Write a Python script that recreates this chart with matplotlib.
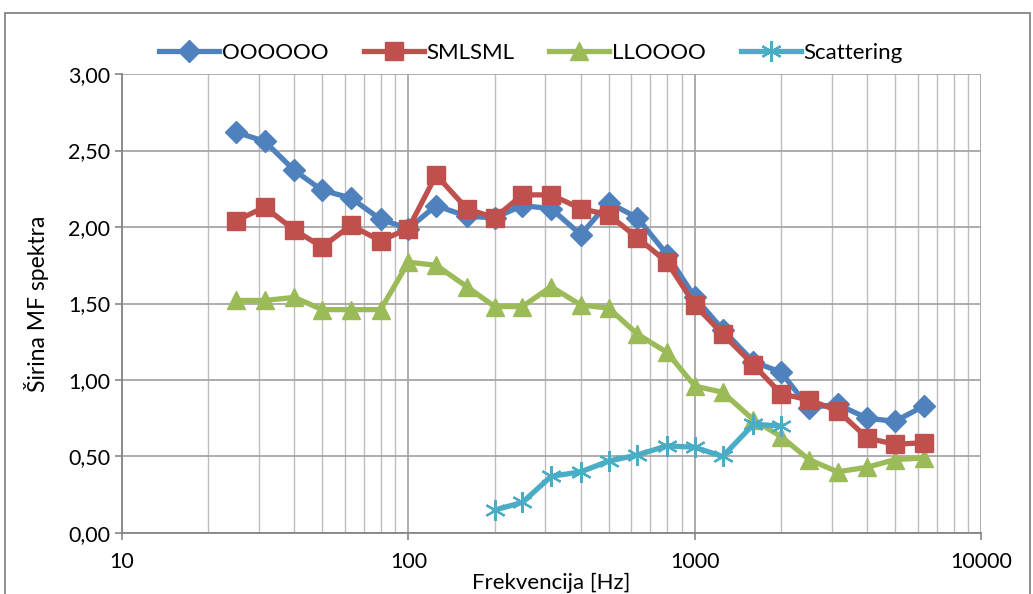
import numpy as np
import matplotlib.pyplot as plt
from matplotlib.patches import Rectangle
from matplotlib.ticker import FixedLocator, FuncFormatter, LogLocator, NullFormatter

plt.rcParams['font.family'] = ['Lato', 'DejaVu Sans']

freq = [25, 31.5, 40, 50, 63, 80, 100, 125, 160, 200, 250, 315, 400, 500,
        630, 800, 1000, 1250, 1600, 2000, 2500, 3150, 4000, 5000, 6300]

oooooo = [2.62, 2.56, 2.37, 2.24, 2.19, 2.05, 1.99, 2.14, 2.07, 2.06, 2.14, 2.12, 1.95,
          2.16, 2.06, 1.82, 1.54, 1.33, 1.12, 1.05, 0.82, 0.84, 0.75, 0.73, 0.83]
smlsml = [2.04, 2.13, 1.98, 1.87, 2.01, 1.91, 1.99, 2.34, 2.12, 2.06, 2.21, 2.21, 2.12,
          2.08, 1.93, 1.77, 1.49, 1.30, 1.10, 0.91, 0.87, 0.80, 0.62, 0.58, 0.59]
llooooo = [1.52, 1.52, 1.54, 1.46, 1.46, 1.46, 1.77, 1.75, 1.61, 1.48, 1.48, 1.61, 1.49,
           1.47, 1.30, 1.18, 0.96, 0.92, 0.74, 0.63, 0.48, 0.40, 0.43, 0.48, 0.49]
scat_freq = [200, 250, 315, 400, 500, 630, 800, 1000, 1250, 1600, 2000]
scattering = [0.15, 0.20, 0.37, 0.40, 0.47, 0.51, 0.57, 0.56, 0.50, 0.71, 0.70]

fig = plt.figure(figsize=(10.33, 5.94), dpi=100)
ax = fig.add_axes([0.118, 0.1027, 0.832, 0.7727])

lw = 3.8
ax.plot(freq, oooooo, color='#4F81BD', lw=lw, marker='D', ms=11, label='OOOOOO', zorder=3)
ax.plot(freq, smlsml, color='#C0504D', lw=lw, marker='s', ms=13, label='SMLSML', zorder=4)
ax.plot(freq, llooooo, color='#9BBB59', lw=lw, marker='^', ms=13, label='LLOOOO', zorder=3)
ax.plot(scat_freq, scattering, color='#4BACC6', lw=lw, marker=(6, 2, 0), ms=15, mew=1.6,
        label='Scattering', zorder=5)

ax.set_xscale('log')
ax.set_xlim(10, 10000)
ax.set_ylim(0, 3)
ax.yaxis.set_major_locator(FixedLocator(np.arange(0, 3.01, 0.5)))
ax.yaxis.set_major_formatter(FuncFormatter(lambda v, p: f'{v:.2f}'.replace('.', ',')))
ax.xaxis.set_major_formatter(FuncFormatter(lambda v, p: f'{int(v)}'))
ax.xaxis.set_minor_locator(LogLocator(base=10, subs=np.arange(2, 10)))
ax.xaxis.set_minor_formatter(NullFormatter())

ax.grid(True, which='major', color='#A6A6A6', lw=1.3)
ax.grid(True, which='minor', axis='x', color='#BDBDBD', lw=1.0)
ax.set_axisbelow(True)
for s in ['top', 'right']:
    ax.spines[s].set_visible(False)
for s in ['left', 'bottom']:
    ax.spines[s].set_color('#868686')
    ax.spines[s].set_linewidth(1.3)
ax.tick_params(axis='both', which='major', labelsize=15.5, color='#868686', length=5, width=1.2)
ax.tick_params(axis='x', which='major', pad=9)
ax.tick_params(axis='x', which='minor', length=0)

ax.set_xlabel('Frekvencija [Hz]', fontsize=16, labelpad=0)
ax.set_ylabel('Širina MF spektra', fontsize=16.5, labelpad=14)

fig.legend(loc='center', bbox_to_anchor=(0.514, 0.911), ncol=4, frameon=False,
           fontsize=16, handlelength=2.7, columnspacing=1.6, handletextpad=0.1)

fig.patches.append(Rectangle((5 / 1033, -0.1), 1025 / 1033, 1.1 - 13 / 594,
                             transform=fig.transFigure, fill=False,
                             edgecolor='#868686', lw=1.3))

fig.savefig('out.png', dpi=100)
